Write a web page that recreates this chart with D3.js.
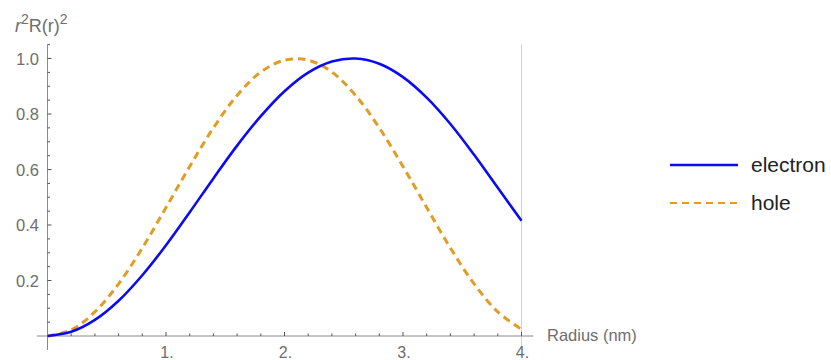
<!DOCTYPE html>
<html>
<head>
<meta charset="utf-8">
<script src="https://cdn.jsdelivr.net/npm/d3@7"></script>
<style>
  body { margin: 0; background: #fff; }
  text { font-family: "Liberation Sans", Arial, sans-serif; }
</style>
</head>
<body>
<svg id="chart" width="831" height="360"></svg>
<script>
// radius in nm
const radius = [0, 0.2, 0.4, 0.6, 0.8, 1.0, 1.2, 1.4, 1.6, 1.8, 2.0,
  2.2, 2.4, 2.6, 2.8, 3.0, 3.2, 3.4, 3.6, 3.8, 4.0];
const electron = [0, 0.015, 0.058, 0.127, 0.219, 0.327, 0.446, 0.568, 0.686, 0.792, 0.882,
  0.949, 0.989, 1.0, 0.981, 0.933, 0.859, 0.764, 0.653, 0.534, 0.415];
const hole = [0, 0.022, 0.087, 0.188, 0.317, 0.463, 0.611, 0.750, 0.867, 0.951, 0.994,
  0.994, 0.951, 0.867, 0.750, 0.611, 0.463, 0.317, 0.188, 0.087, 0.024];
const xTicks = [1, 2, 3, 4];
const yTicks = [0.2, 0.4, 0.6, 0.8, 1.0];
const seriesNames = ['electron', 'hole'];

const svg = d3.select('#chart');

const x = d3.scaleLinear().domain([0, 4]).range([47.5, 521.5]);
const y = d3.scaleLinear().domain([0, 1]).range([336, 58.5]);

const axisColor = '#8a8a8a';
const labelColor = '#6e6e6e';
const blue = '#0a0af5';
const orange = '#e19c24';

// vertical line at the right edge of the data
svg.append('line')
  .attr('x1', x(4)).attr('x2', x(4))
  .attr('y1', y(1.05)).attr('y2', 346)
  .attr('stroke', '#cfcfcf')
  .attr('stroke-width', 1);

// x axis
svg.append('line')
  .attr('x1', x(-0.09)).attr('x2', x(4.1))
  .attr('y1', y(0)).attr('y2', y(0))
  .attr('stroke', axisColor).attr('stroke-width', 1);

const xMinor = d3.range(0, 4.11, 0.2);
svg.append('g').selectAll('line')
  .data(xMinor)
  .join('line')
  .attr('x1', d => x(d)).attr('x2', d => x(d))
  .attr('y1', y(0))
  .attr('y2', d => Math.abs(d - Math.round(d)) < 1e-6 ? y(0) - 4 : y(0) - 2.5)
  .attr('stroke', '#555').attr('stroke-width', 1);

svg.append('g').selectAll('text')
  .data(xTicks)
  .join('text')
  .attr('x', d => x(d) + 1)
  .attr('y', 358)
  .attr('text-anchor', 'middle')
  .style('font-size', '16px')
  .style('fill', labelColor)
  .text(d => d + '.');

svg.append('text')
  .attr('x', 547)
  .attr('y', 341)
  .style('font-size', '16.5px')
  .style('fill', labelColor)
  .text('Radius (nm)');

// y axis
svg.append('line')
  .attr('x1', x(0)).attr('x2', x(0))
  .attr('y1', y(1.05)).attr('y2', 350)
  .attr('stroke', axisColor).attr('stroke-width', 1);

const yMinor = d3.range(0, 1.051, 0.05);
svg.append('g').selectAll('line')
  .data(yMinor)
  .join('line')
  .attr('x1', x(0))
  .attr('x2', (d, i) => i % 4 === 0 ? x(0) + 4 : x(0) + 2.5)
  .attr('y1', d => y(d)).attr('y2', d => y(d))
  .attr('stroke', '#555').attr('stroke-width', 1);

svg.append('g').selectAll('text')
  .data(yTicks)
  .join('text')
  .attr('x', 39)
  .attr('y', d => y(d) + 6)
  .attr('text-anchor', 'end')
  .style('font-size', '16.5px')
  .style('fill', labelColor)
  .text(d => d.toFixed(1));

const yLabel = svg.append('text')
  .attr('x', 15)
  .attr('y', 32)
  .style('font-size', '18px')
  .style('fill', labelColor);
yLabel.append('tspan').style('font-style', 'italic').text('r');
yLabel.append('tspan').attr('dy', -8).style('font-size', '14px').text('2');
yLabel.append('tspan').attr('dy', 8).text('R(r)');
yLabel.append('tspan').attr('dy', -8).style('font-size', '14px').text('2');

// curves
const line = d3.line()
  .x((d, i) => x(radius[i]))
  .y(d => y(d))
  .curve(d3.curveCatmullRom);

svg.append('path')
  .datum(hole)
  .attr('d', line)
  .attr('fill', 'none')
  .attr('stroke', orange)
  .attr('stroke-width', 3)
  .attr('stroke-dasharray', '7.5,5');

svg.append('path')
  .datum(electron)
  .attr('d', line)
  .attr('fill', 'none')
  .attr('stroke', blue)
  .attr('stroke-width', 2.6);

// legend
const legend = svg.append('g')
  .selectAll('g')
  .data(seriesNames)
  .join('g')
  .attr('transform', (d, i) => `translate(670, ${165 + i * 38})`);

legend.append('line')
  .attr('x1', 0).attr('x2', 68)
  .attr('y1', 0).attr('y2', 0)
  .attr('stroke', d => d === 'electron' ? blue : orange)
  .attr('stroke-width', d => d === 'electron' ? 2.4 : 2)
  .attr('stroke-dasharray', d => d === 'electron' ? null : '7,5');

legend.append('text')
  .attr('x', 81)
  .attr('y', 7)
  .style('font-size', '21px')
  .style('fill', '#222')
  .text(d => d);
</script>
</body>
</html>
